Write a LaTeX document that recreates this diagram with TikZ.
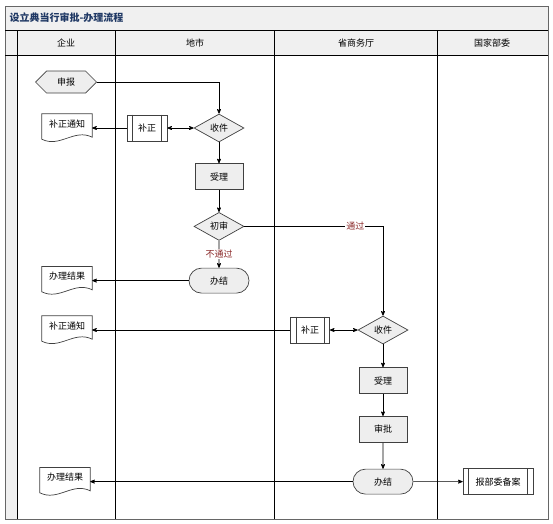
\documentclass[tikz,border=0pt]{standalone}
\usepackage{fontspec}
\setmainfont{Noto Sans CJK SC}
\usetikzlibrary{arrows,calc,positioning,shapes.geometric,shapes.misc,shapes.symbols}
\definecolor{kasse}{HTML}{EEEEEE}
\definecolor{kopf}{HTML}{F0F0F0}
\definecolor{titel}{HTML}{1F3864}
\definecolor{maerke}{HTML}{8B2A2A}
\tikzset{
    >=stealth',
    tekst/.style={font=\fontsize{9}{10}\selectfont},
    proces/.style={
           tekst,
           rectangle,
           draw=black!75,
           line width=0.7pt,
           fill=kasse,
           minimum width=48pt,
           minimum height=26pt,
           inner sep=0pt,
           text centered},
    delproc/.style={
           proces,
           fill=white,
           minimum width=40pt},
    beslut/.style={
           tekst,
           diamond,
           draw=black!75,
           line width=0.7pt,
           fill=kasse,
           minimum width=50pt,
           minimum height=28pt,
           inner sep=0pt},
    slut/.style={
           tekst,
           rounded rectangle,
           draw=black!75,
           line width=0.7pt,
           fill=kasse,
           minimum width=60pt,
           minimum height=25pt,
           inner sep=0pt},
    start/.style={
           tekst,
           signal,
           signal to=west and east,
           draw=black!75,
           line width=0.7pt,
           fill=kasse,
           minimum width=61pt,
           minimum height=22pt,
           inner sep=0pt},
    dok/.style={
           tekst,
           minimum width=50pt,
           minimum height=28pt,
           text depth=9pt,
           inner sep=0pt},
    pil/.style={
           ->,
           line width=0.7pt},
    maerke/.style={
           tekst,
           text=maerke,
           fill=white,
           inner sep=1pt}
}
\begin{document}
\begin{tikzpicture}[x=1pt, y=-1pt, node distance=22pt]
        \useasboundingbox (0,0) rectangle (553,523);
        % baner
        \fill[kopf] (5,6) rectangle (548,55);
        \fill[kopf] (5,55) rectangle (17,519);
        \draw[black!60, line width=0.8pt] (5,6) rectangle (548,519);
        \begin{scope}[line width=0.8pt]
            \draw (5,30) -- (548,30);
            \draw (5,55) -- (548,55);
            \draw (17,30) -- (17,519);
            \foreach \x in {115,274,437}
                \draw (\x,30) -- (\x,519);
        \end{scope}
        \node[anchor=west, text=titel, font=\fontsize{10}{12}\selectfont\bfseries] (titel) at (6,18) {设立典当行审批-办理流程};
        \node[tekst] (firma) at (66,43) {企业};
        \node[tekst] (by) at (195,43) {地市};
        \node[tekst] (provins) at (356,43) {省商务厅};
        \node[tekst] (stat) at (492,43) {国家部委};

        % kommune
        \node[start] (ansoeg) at (66,82) {申报};
        \node[beslut] (modtag1) at (219,128) {收件};
        \node[delproc] (ret1) at (147,128) {补正};
        \node[dok] (besked1) at (67,128) {补正通知};
        \node[proces, below=21pt of modtag1] (behandl1) {受理};
        \node[beslut, below=of behandl1] (forprov) {初审};
        \node[slut, below=27pt of forprov] (afslut1) {办结};
        \node[dok] (resultat1) at (67,0 |- afslut1) {办理结果};

        % provins
        \node[beslut] (modtag2) at (383,330) {收件};
        \node[delproc, minimum width=39pt] (ret2) at (310,330) {补正};
        \node[dok] (besked2) at (67,330) {补正通知};
        \node[proces, below=23pt of modtag2] (behandl2) {受理};
        \node[proces, below=of behandl2] (godkend) {审批};
        \node[slut, below=26pt of godkend] (afslut2) {办结};
        \node[dok] (resultat2) at (65,0 |- afslut2) {办理结果};
        \node[delproc, minimum width=70pt] (indberet) at (498,0 |- afslut2) {报部委备案};

        % dokumenter og delprocesser
        \foreach \d in {besked1,resultat1,besked2,resultat2}
            \draw[black!75, line width=0.7pt] (\d.north west) -- (\d.north east) -- ([yshift=5pt]\d.south east)
                .. controls ([xshift=-18pt,yshift=14pt]\d.south east) and ([xshift=18pt,yshift=-6pt]\d.south west) .. ([yshift=3pt]\d.south west) -- cycle;
        \foreach \d in {ret1,ret2,indberet}
        {
            \draw[black!75, line width=0.7pt] ([xshift=6pt]\d.north west) -- ([xshift=6pt]\d.south west);
            \draw[black!75, line width=0.7pt] ([xshift=-6pt]\d.north east) -- ([xshift=-6pt]\d.south east);
        }

        \draw[pil] (ansoeg.east) -| (modtag1.north);
        \draw[pil, <->] (ret1) -- (modtag1);
        \draw[pil] (ret1) -- (besked1);
        \draw[pil] (modtag1) -- (behandl1);
        \draw[pil] (behandl1) -- (forprov);
        \draw[pil] (forprov) -- node[maerke] {不通过} (afslut1);
        \draw[pil] (afslut1) -- (resultat1);
        \draw[pil] (forprov.east) -| node[maerke, pos=0.4] {通过} (modtag2.north);
        \draw[pil, <->] (ret2) -- (modtag2);
        \draw[pil] (ret2) -- (besked2);
        \draw[pil] (modtag2) -- (behandl2);
        \draw[pil] (behandl2) -- (godkend);
        \draw[pil] (godkend) -- (afslut2);
        \draw[pil] (afslut2) -- (resultat2);
        \draw[pil] (afslut2) -- (indberet);
\end{tikzpicture}
\end{document}
